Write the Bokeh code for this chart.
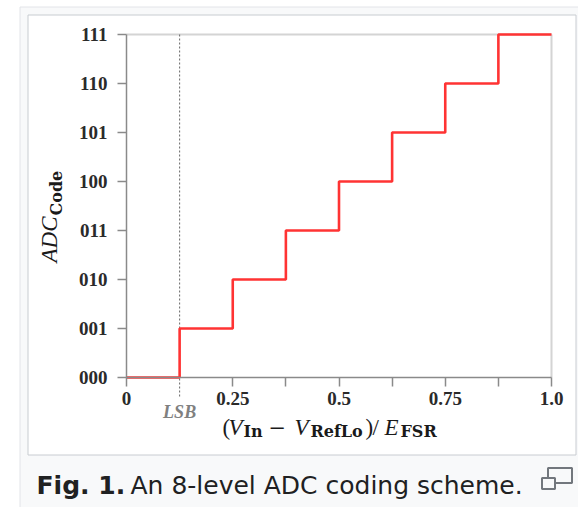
from bokeh.plotting import figure
from bokeh.models import Range1d, FixedTicker, Label, BoxAnnotation, LinearAxis
from bokeh.embed import file_html
from bokeh.resources import INLINE

# ---- data ----
x_edges = [0.0, 0.125, 0.25, 0.375, 0.5, 0.625, 0.75, 0.875, 1.0]
codes = [0, 1, 2, 3, 4, 5, 6, 7, 7]
y_ticks = [0, 1, 2, 3, 4, 5, 6, 7]
y_tick_labels = ["000", "001", "010", "011", "100", "101", "110", "111"]
x_ticks = [0.0, 0.25, 0.375, 0.5, 0.625, 0.75, 0.875, 1.0]
x_tick_labels = ["0", "0.25", "", "0.5", "", "0.75", "", "1.0"]
lsb = 0.125
lsb_label = "LSB"
caption_bold = "Fig. 1."
caption_text = "An 8-level ADC coding scheme."

# ---- layout (canvas pixels) ----
W, H = 578, 507
X0PX, X1PX = 126, 551
Y0PX, YTPX = 377, 34
xs = (X1PX - X0PX) / (x_edges[-1] - x_edges[0])
ys = (Y0PX - YTPX) / (y_ticks[-1] - y_ticks[0])


def cx(px):
    return x_edges[0] + (px - X0PX) / xs


def cy(py):
    return y_ticks[0] + (Y0PX - py) / ys


p = figure(width=W, height=H, output_backend="svg", toolbar_location=None,
           x_axis_location=None, y_axis_location=None,
           x_range=Range1d(cx(0), cx(W)), y_range=Range1d(cy(H), cy(0)),
           min_border=0)
p.border_fill_color = "#ffffff"
p.background_fill_color = "#ffffff"
p.outline_line_color = None
p.grid.visible = False

# page boxes
p.add_layout(BoxAnnotation(left=cx(19.5), right=cx(640), top=cy(6.5), bottom=cy(560),
                           fill_color="#f8f9fa", fill_alpha=1, line_color="#e2e4e8",
                           line_alpha=1, line_width=1, level="underlay"))
p.add_layout(BoxAnnotation(left=cx(27.5), right=cx(575.5), top=cy(14.5), bottom=cy(454.5),
                           fill_color="#ffffff", fill_alpha=1, line_color="#c8ccd1",
                           line_alpha=1, line_width=1, level="underlay"))

# light frame lines (top and right)
p.segment(x0=[x_edges[0], x_edges[-1]], y0=[y_ticks[-1], y_ticks[0]],
          x1=[x_edges[-1], x_edges[-1]], y1=[y_ticks[-1], y_ticks[-1]],
          line_color="#d4d4d4", line_width=2)

# LSB dashed line
p.segment(x0=[lsb], y0=[y_ticks[-1]], x1=[lsb], y1=[cy(396)],
          line_color="#666666", line_width=1, line_dash="2 2")

# staircase
p.step(x_edges, codes, mode="after", line_color="#ff3333", line_width=2.6)

# axes at data zero
xaxis = LinearAxis(fixed_location=y_ticks[0], bounds=(x_edges[0], x_edges[-1]),
                   ticker=FixedTicker(ticks=x_ticks),
                   major_label_overrides=dict(zip(x_ticks, x_tick_labels)),
                   major_label_standoff=5)
yaxis = LinearAxis(fixed_location=x_edges[0], bounds=(y_ticks[0], y_ticks[-1]),
                   ticker=FixedTicker(ticks=y_ticks),
                   major_label_overrides=dict(zip(y_ticks, y_tick_labels)),
                   major_label_standoff=10)
for ax in (xaxis, yaxis):
    ax.axis_line_color = "#8a8a8a"
    ax.axis_line_width = 1.5
    ax.major_tick_line_color = "#8a8a8a"
    ax.major_tick_line_width = 1.5
    ax.major_tick_in = 0
    ax.major_tick_out = 9
    ax.minor_tick_line_color = None
    ax.major_label_text_font = "Liberation Serif"
    ax.major_label_text_font_style = "bold"
    ax.major_label_text_font_size = "19px"
    ax.major_label_text_color = "#2a2a2a"
p.add_layout(xaxis, "below")
p.add_layout(yaxis, "left")

# LSB tick label
p.add_layout(Label(x=lsb, y=cy(411), text=lsb_label, text_align="center",
                   text_baseline="alphabetic", text_font="Liberation Serif",
                   text_font_style="bold italic", text_font_size="18px",
                   text_color="#808080"))

# x axis label pieces
MAIN = "23px"
SUB = "16px"
BL, SBL = 427, 431
pieces = [
    ("(", 222, BL, "Liberation Serif", "normal", MAIN),
    ("V", 228, BL, "Liberation Serif", "italic", MAIN),
    ("In", 243, SBL, "DejaVu Serif", "bold", SUB),
    ("\u2212", 268, BL, "DejaVu Serif", "normal", "21px"),
    ("V", 294, BL, "Liberation Serif", "italic", MAIN),
    ("RefLo", 310, SBL, "DejaVu Serif", "bold", SUB),
    (")", 365, BL, "Liberation Serif", "normal", MAIN),
    ("/", 372, BL, "Liberation Serif", "normal", MAIN),
    ("E", 384, BL, "Liberation Serif", "italic", MAIN),
    ("FSR", 400, SBL, "DejaVu Serif", "bold", SUB),
]
for t, px, py, f, st, sz in pieces:
    p.add_layout(Label(x=cx(px), y=cy(py), text=t, text_align="left",
                       text_baseline="alphabetic", text_font=f, text_font_style=st,
                       text_font_size=sz, text_color="#1a1a1a"))

# y axis label (rotated)
p.add_layout(Label(x=cx(49), y=cy(262), text="ADC", angle=1.5708, text_align="left",
                   text_baseline="alphabetic", text_font="Liberation Serif",
                   text_font_style="italic", text_font_size="23px", text_color="#1a1a1a"))
p.add_layout(Label(x=cx(56), y=cy(215), text="Code", angle=1.5708, text_align="left",
                   text_baseline="alphabetic", text_font="DejaVu Serif",
                   text_font_style="bold", text_font_size="16px", text_color="#1a1a1a"))

# caption
p.add_layout(Label(x=cx(36), y=cy(485), text=caption_bold, text_align="left",
                   text_baseline="alphabetic", text_font="DejaVu Sans",
                   text_font_style="bold", text_font_size="25px", text_color="#202122"))
p.add_layout(Label(x=cx(130), y=cy(485), text=caption_text, text_align="left",
                   text_baseline="alphabetic", text_font="DejaVu Sans",
                   text_font_style="normal", text_font_size="25px", text_color="#202122"))

# enlarge icon
p.add_layout(BoxAnnotation(left=cx(547.5), right=cx(571.5), top=cy(467.5), bottom=cy(482.5),
                           fill_alpha=0, line_color="#72777d", line_alpha=1, line_width=2))
p.add_layout(BoxAnnotation(left=cx(541.5), right=cx(554.5), top=cy(477.5), bottom=cy(488.5),
                           fill_color="#f8f9fa", fill_alpha=1, line_color="#72777d",
                           line_alpha=1, line_width=2))

open("out.html", "w").write(file_html(p, INLINE))
